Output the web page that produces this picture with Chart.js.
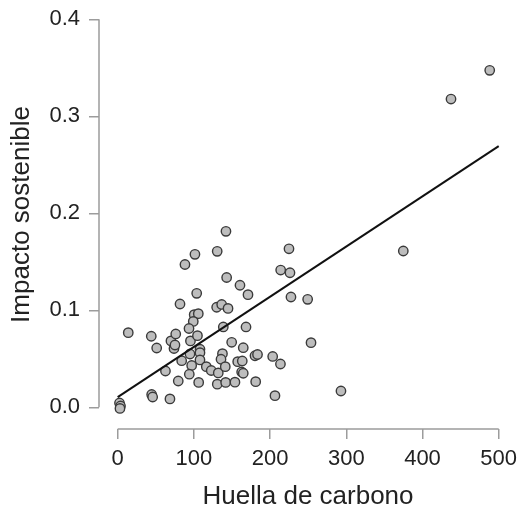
<!DOCTYPE html>
<html>
<head>
<meta charset="utf-8">
<script src="https://cdn.jsdelivr.net/npm/chart.js@4/dist/chart.umd.min.js"></script>
<style>
  html, body { margin: 0; padding: 0; background: #fff; }
  #wrap { width: 517px; height: 508px; }
</style>
</head>
<body>
<div id="wrap"><canvas id="chart" width="517" height="508"></canvas></div>
<script>
// Valores
const huellaCarbono = [
  2.4, 3.7, 3.0, 13.9, 44.1, 51.2, 69.9, 76.2, 73.9, 75.2,
  62.7, 79.5, 44.6, 45.9, 68.6, 84.0, 88.3, 101.4, 130.6, 142.1,
  143.0, 160.5, 171.0, 103.7, 81.8, 129.9, 136.5, 144.8, 100.4, 105.8,
  99.2, 93.6, 138.6, 168.4, 149.6, 164.8, 95.5, 104.7, 108.0, 108.0,
  94.9, 137.5, 135.6, 108.0, 97.1, 116.3, 122.8, 132.0, 141.2, 157.5,
  163.5, 180.2, 183.5, 203.4, 213.6, 94.0, 162.7, 164.8, 106.3, 130.7,
  141.7, 153.9, 181.1, 206.4, 293.0, 253.7, 224.8, 213.9, 226.1, 227.4,
  249.3, 374.8, 437.4, 488.2
];
const impactoSostenible = [
  0.0044, 0.0013, -0.0012, 0.0769, 0.0732, 0.0611, 0.0684, 0.0756, 0.0606, 0.0642,
  0.0374, 0.0271, 0.0132, 0.0106, 0.0086, 0.0480, 0.1472, 0.1577, 0.1608, 0.1814,
  0.1338, 0.1258, 0.1161, 0.1175, 0.1065, 0.1031, 0.1060, 0.1019, 0.0955, 0.0965,
  0.0885, 0.0812, 0.0828, 0.0828, 0.0670, 0.0614, 0.0684, 0.0738, 0.0598, 0.0563,
  0.0549, 0.0553, 0.0495, 0.0488, 0.0431, 0.0419, 0.0379, 0.0354, 0.0419, 0.0470,
  0.0477, 0.0531, 0.0544, 0.0524, 0.0446, 0.0341, 0.0364, 0.0351, 0.0256, 0.0238,
  0.0256, 0.0259, 0.0264, 0.0120, 0.0168, 0.0666, 0.1634, 0.1415, 0.1387, 0.1137,
  0.1113, 0.1611, 0.3178, 0.3474
];

// Recta de ajuste (extremos)
const rectaX = [0, 500];
const rectaY = [0.0105, 0.2693];

const xTicks = [0, 100, 200, 300, 400, 500];
const yTicks = [0.0, 0.1, 0.2, 0.3, 0.4];

const axisColor = '#9c9c9c';
const fontFamily = '"Liberation Sans", Arial, Helvetica, sans-serif';

// Ejes al estilo R: la línea solo cubre el rango de las marcas
const axisLines = {
  id: 'axisLines',
  afterDraw(chart) {
    const { ctx, chartArea, scales } = chart;
    const xs = scales.x, ys = scales.y;
    ctx.save();
    ctx.strokeStyle = axisColor;
    ctx.lineWidth = 1.5;
    ctx.beginPath();
    ctx.moveTo(chartArea.left, ys.getPixelForValue(yTicks[0]));
    ctx.lineTo(chartArea.left, ys.getPixelForValue(yTicks[yTicks.length - 1]));
    ctx.moveTo(xs.getPixelForValue(xTicks[0]), chartArea.bottom);
    ctx.lineTo(xs.getPixelForValue(xTicks[xTicks.length - 1]), chartArea.bottom);
    ctx.stroke();
    ctx.restore();
  }
};

// sin margen automático para las etiquetas que sobresalen
const noLabelPadding = (scale) => {
  scale.paddingTop = 0;
  scale.paddingBottom = 0;
  scale.paddingLeft = 0;
  scale.paddingRight = 0;
};

const ctx = document.getElementById('chart').getContext('2d');
new Chart(ctx, {
  data: {
    datasets: [
      {
        type: 'line',
        data: rectaX.map((x, i) => ({ x, y: rectaY[i] })),
        borderColor: '#111',
        borderWidth: 2,
        pointRadius: 0,
        fill: false,
        clip: false
      },
      {
        type: 'scatter',
        data: huellaCarbono.map((x, i) => ({ x, y: impactoSostenible[i] })),
        backgroundColor: '#bdbdbd',
        borderColor: '#3a3a3a',
        borderWidth: 1.4,
        pointRadius: 4.7,
        clip: false
      }
    ]
  },
  plugins: [axisLines],
  options: {
    responsive: false,
    animation: false,
    devicePixelRatio: 1,
    layout: { padding: 0, autoPadding: false },
    plugins: { legend: { display: false }, tooltip: { enabled: false } },
    scales: {
      x: {
        type: 'linear',
        min: -24.5,
        max: 524,
        afterBuildTicks: (scale) => { scale.ticks = xTicks.map(v => ({ value: v })); },
        afterFit: (scale) => { scale.height = 79; noLabelPadding(scale); },
        border: { display: false },
        grid: { drawOnChartArea: false, drawTicks: true, tickLength: 10, color: axisColor, lineWidth: 1.5 },
        ticks: { color: '#222', padding: 7, maxRotation: 0, font: { family: fontFamily, size: 22 } },
        title: {
          display: true,
          text: 'Huella de carbono',
          color: '#222',
          padding: { top: 0, bottom: 0 },
          font: { family: fontFamily, size: 26, lineHeight: 0.85 }
        }
      },
      y: {
        type: 'linear',
        min: -0.0224,
        max: 0.4199,
        afterBuildTicks: (scale) => { scale.ticks = yTicks.map(v => ({ value: v })); },
        afterFit: (scale) => { scale.width = 99; noLabelPadding(scale); },
        border: { display: false },
        grid: { drawOnChartArea: false, drawTicks: true, tickLength: 10, color: axisColor, lineWidth: 1.5 },
        ticks: {
          color: '#222',
          padding: 9,
          font: { family: fontFamily, size: 22 },
          callback: (v) => Number(v).toFixed(1)
        },
        title: {
          display: true,
          text: 'Impacto sostenible',
          color: '#222',
          padding: { top: 9, bottom: 0 },
          font: { family: fontFamily, size: 26, lineHeight: 1 }
        }
      }
    }
  }
});
</script>
</body>
</html>
